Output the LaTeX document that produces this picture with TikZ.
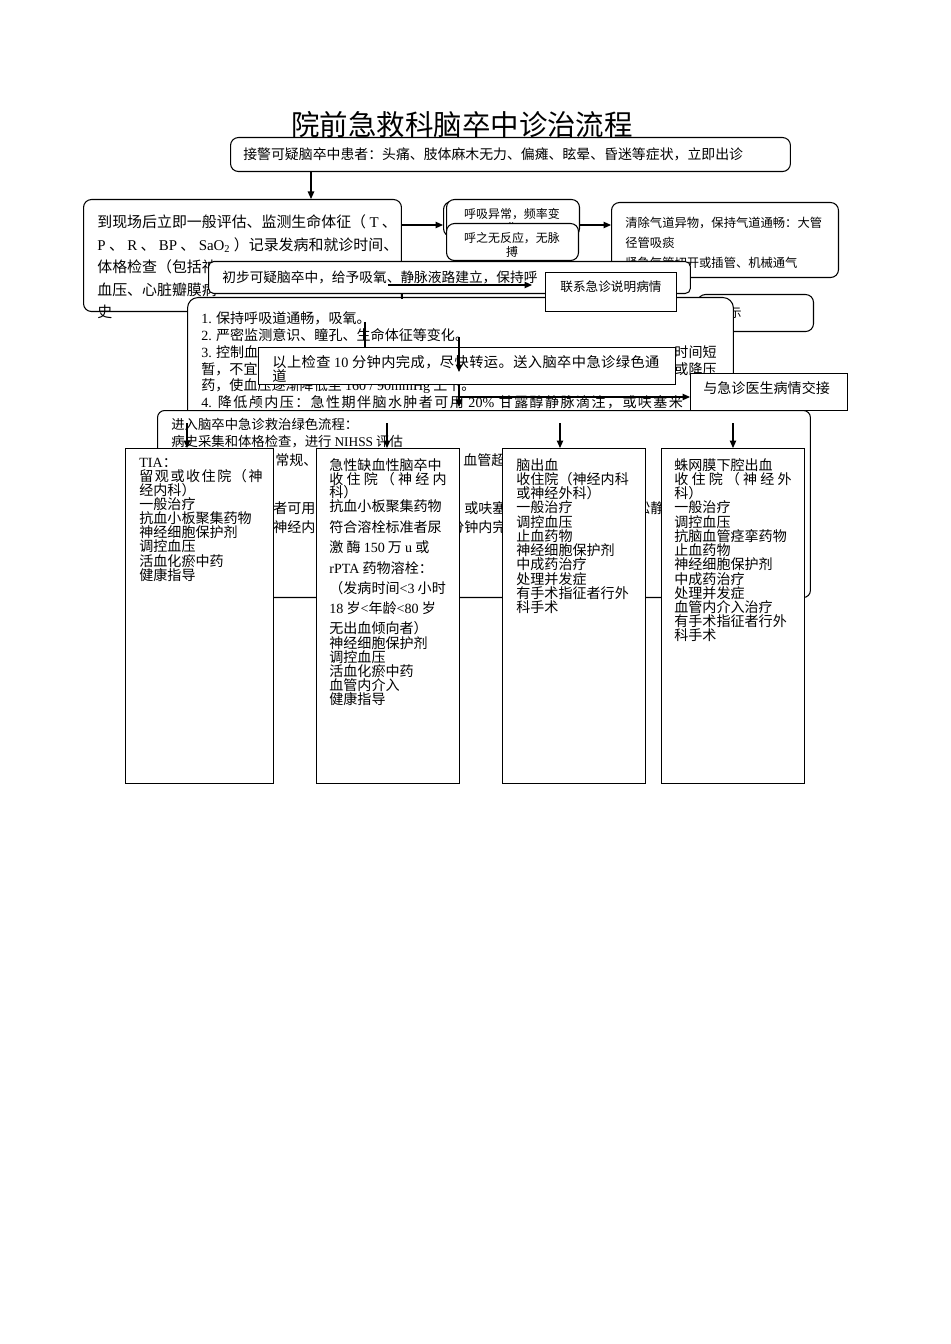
\documentclass[tikz,border=0pt]{standalone}
\usepackage{fontspec}
\setmainfont{Noto Sans CJK SC}
\newfontfamily\lat{Liberation Serif}
\usetikzlibrary{arrows.meta,calc}
\tikzset{
  box/.style={draw, line width=0.6pt, fill=white, inner sep=0pt, anchor=north west},
  rbox/.style={box, rounded corners=4.5pt},
  txt/.style={inner sep=0pt, anchor=north west, align=left},
  arr/.style={line width=0.6pt, -{Triangle[length=1.5mm,width=1.3mm]}},
  ln/.style={line width=0.6pt},
  feight/.style={font=\fontsize{8}{8.1}\selectfont},
}
\newcommand{\spread}[2]{{\addfontfeature{LetterSpace=#1}#2}}
\begin{document}
\begin{tikzpicture}[x=0.02cm,y=-0.02cm]
\useasboundingbox[fill=white] (0,0) rectangle (950,1344);

% title
\node[inner sep=0pt, anchor=west, font=\fontsize{16.2}{18}\selectfont] (title) at (291,125) {院前急救科脑卒中诊治流程};
\draw[ln] (title.south west) -- (title.south east);

% top box
\node[rbox, minimum width=11.2cm, minimum height=0.68cm] (top) at (230,137) {};
\node[txt, anchor=west, font=\fontsize{7.9}{8}\selectfont] (toptxt) at (243,154) {接警可疑脑卒中患者：头痛、肢体麻木无力、偏瘫、眩晕、昏迷等症状，立即出诊};

% on-site assessment
\node[rbox, minimum width=6.36cm, minimum height=2.24cm] (b2) at (83,199) {};
\node[txt, font=\fontsize{8.5}{12.8}\selectfont] (b2txt) at (97,214.5) {到现场后立即一般评估、监测生命体征（ {\lat T} 、\\{\lat P} 、 {\lat R} 、 {\lat BP} 、 {\lat SaO\textsubscript{2}} ）记录发病和就诊时间、\\体格检查（包括神\\血压、心脏瓣膜病\\史};

% breathing boxes
\node[rbox, minimum width=2.7cm, minimum height=0.7cm] (b3z) at (443,201) {};
\node[rbox, minimum width=2.66cm, minimum height=0.74cm] (b3a) at (446,199) {};
\node[txt, anchor=north, align=center, font=\fontsize{6.8}{7.9}\selectfont] (b3atxt) at (512,208) {呼吸异常，频率变\\化};
\node[rbox, minimum width=2.64cm, minimum height=0.74cm] (b3b) at (446,223) {};
\node[txt, anchor=north, align=center, font=\fontsize{6.8}{7.9}\selectfont] (b3btxt) at (512,232) {呼之无反应，无脉\\搏};

% airway box
\node[rbox, minimum width=4.54cm, minimum height=1.5cm] (b4) at (611,202) {};
\node[txt, font=\fontsize{7}{11.3}\selectfont] (b4txt) at (625,217) {清除气道异物，保持气道通畅：大管\\径管吸痰\\紧急气管切开或插管、机械通气};

% partly hidden box on the right
\node[rbox, minimum width=2.32cm, minimum height=0.74cm] (bshi) at (697,294) {};
\node[txt, anchor=west, font=\fontsize{7}{8}\selectfont] (bshitxt) at (729,313) {示};

% preliminary suspicion
\node[rbox, rounded corners=3pt, minimum width=9.64cm, minimum height=0.64cm] (chubu) at (208,261) {};
\node[txt, anchor=west, font=\fontsize{7.8}{8}\selectfont] (chubutxt) at (222,277) {初步可疑脑卒中，给予吸氧、静脉液路建立，保持呼};

% measures box
\node[rbox, rounded corners=6pt, minimum width=10.92cm, minimum height=3cm] (b1) at (187,297) {};
\node[txt, font=\fontsize{8}{9.64}\selectfont] (b1txt) at (201,311) {{\lat 1.} 保持呼吸道通畅，吸氧。\\{\lat 2.} 严密监测意识、瞳孔、生命体征等变化。\\{\lat 3.} 控制血\\暂，不宜\\药，使血压逐渐降低至 {\lat 160 / 90mmHg} 上下。\\\spread{10}{{\lat 4.} 降低颅内压：急性期伴脑水肿者可用 {\lat 20\%} 甘露醇静脉滴注，或呋塞米}};
\node[txt, anchor=east, feight] (b1r3) at (717,352) {时间短};
\node[txt, anchor=east, feight] (b1r4) at (717,369) {或降压};

% contact emergency
\node[box, minimum width=2.62cm, minimum height=0.78cm] (lianxi) at (545,272) {};
\node[txt, anchor=west, font=\fontsize{7.2}{8}\selectfont] (lianxitxt) at (560,287) {联系急诊说明病情};

% transfer within 10 min
\node[box, minimum width=8.34cm, minimum height=0.74cm] (yishang) at (258,347) {};
\node[txt, font=\fontsize{8.1}{8.2}\selectfont] (yishangtxt) at (272,355) {\spread{3}{以上检查 {\lat 10} 分钟内完成，尽快转运。送入脑卒中急诊绿色通}\\道};

% hand-over
\node[box, minimum width=3.14cm, minimum height=0.74cm] (yuji) at (690,373) {};
\node[txt, anchor=west, feight] (yujitxt) at (703,388) {与急诊医生病情交接};

% green channel box
\node[rbox, rounded corners=4pt, minimum width=13.06cm, minimum height=3.74cm] (jinru) at (157,410) {};
\node[txt, font=\fontsize{7.6}{9.6}\selectfont] (jinrutxt) at (171,418) {进入脑卒中急诊救治绿色流程：\\病史采集和体格检查，进行 {\lat NIHSS} 评估};
\node[txt, anchor=west, feight] (fr1) at (275,460) {常规、};
\node[txt, anchor=west, feight] (fr2) at (463,460) {血管超};
\node[txt, anchor=west, feight] (fr3) at (273,508) {者可用};
\node[txt, anchor=west, feight] (fr4) at (273,527) {神经内};
\node[txt, anchor=west, feight] (fr5) at (464,508) {或呋塞};
\node[txt, anchor=west, feight] (fr6) at (450,527) {分钟内完};
\node[txt, anchor=west, feight] (fr7) at (636,508) {松静};

% four columns
\node[box, minimum width=2.96cm, minimum height=6.7cm] (tia) at (125,448) {};
\node[txt, font=\fontsize{8}{8}\selectfont] (tiatxt) at (139,458) {{\lat TIA}：\\\spread{11}{留观或收住院（神}\\经内科）\\一般治疗\\抗血小板聚集药物\\神经细胞保护剂\\调控血压\\活血化瘀中药\\健康指导};

\node[box, minimum width=2.86cm, minimum height=6.7cm] (qx) at (316,448) {};
\node[txt, font=\fontsize{8}{7.9}\selectfont] (qxtxt) at (329,458) {急性缺血性脑卒中\\收 住 院 （ 神 经 内\\科）\\抗血小板聚集药物\\[4pt]符合溶栓标准者尿\\[3.6pt]激 酶 {\lat 150} 万 {\lat u} 或\\[3.6pt]{\lat rPTA} 药物溶栓：\\[3.6pt]（发病时间{\lat <3} 小时\\[3.6pt]{\lat 18} 岁{\lat <}年龄{\lat <80} 岁\\[3.6pt]无出血倾向者）\\[0.5pt]神经细胞保护剂\\调控血压\\活血化瘀中药\\血管内介入\\健康指导};

\node[box, minimum width=2.86cm, minimum height=6.7cm] (cx) at (502,448) {};
\node[txt, font=\fontsize{8}{8.1}\selectfont] (cxtxt) at (516,458) {脑出血\\收住院（神经内科\\或神经外科）\\一般治疗\\调控血压\\止血药物\\神经细胞保护剂\\中成药治疗\\处理并发症\\有手术指征者行外\\科手术};

\node[box, minimum width=2.86cm, minimum height=6.7cm] (sah) at (661,448) {};
\node[txt, font=\fontsize{8}{8.1}\selectfont] (sahtxt) at (674,458) {蛛网膜下腔出血\\收 住 院 （ 神 经 外\\科）\\一般治疗\\调控血压\\抗脑血管痉挛药物\\止血药物\\神经细胞保护剂\\中成药治疗\\处理并发症\\血管内介入治疗\\有手术指征者行外\\科手术};

% connectors
\coordinate (xA) at (311,0);
\draw[arr] (top.south -| xA) -- (b2.north -| xA);
\coordinate (yB) at (0,225);
\draw[arr] (b2.east |- yB) -- (b3z.west |- yB);
\draw[arr] (b3a.east |- yB) -- (b4.west |- yB);
\coordinate (c1) at (388,285);
\draw[arr, shorten >=0.26cm] (c1) -- (c1 -| lianxi.west);
\coordinate (x402) at (402,0);
\draw[ln] (chubu.south -| x402) -- ++(0,5);
\coordinate (c365) at (365,322);
\draw[ln] (c365) -- (yishang.north -| c365);
\coordinate (c459a) at (459,337);
\coordinate (c459b) at (459,372);
\draw[arr] (c459a) -- (c459b);
\coordinate (c459c) at (459,407);
\draw[arr] (yishang.south -| c459a) -- (c459c);
\coordinate (c459d) at (459,397);
\draw[arr] (c459d) -- (yuji.west |- c459d);
\foreach \x/\n in {187/tia,387/qx,560/cx,733/sah}{
  \coordinate (t\n) at (\x,423);
  \draw[arr] (t\n) -- (\n.north -| t\n);
}
\end{tikzpicture}
\end{document}
